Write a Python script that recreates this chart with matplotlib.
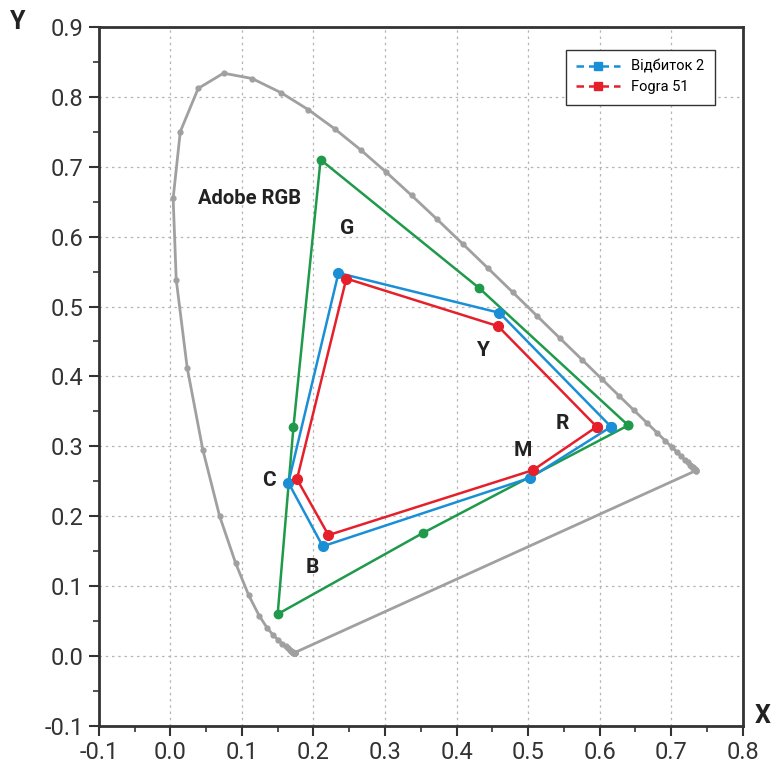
import matplotlib
matplotlib.use("Agg")
import matplotlib.pyplot as plt
from matplotlib.ticker import MultipleLocator

FONT = ["Roboto", "DejaVu Sans"]
plt.rcParams["font.family"] = FONT

# CIE 1931 spectral locus, 380..700 nm every 5 nm
LOCUS_X = [0.1741, 0.1740, 0.1738, 0.1736, 0.1733, 0.1730, 0.1726, 0.1721, 0.1714,
           0.1703, 0.1689, 0.1669, 0.1644, 0.1611, 0.1566, 0.1510, 0.1440, 0.1355,
           0.1241, 0.1096, 0.0913, 0.0687, 0.0454, 0.0235, 0.0082, 0.0039, 0.0139,
           0.0389, 0.0743, 0.1142, 0.1547, 0.1929, 0.2296, 0.2658, 0.3016, 0.3373,
           0.3731, 0.4087, 0.4441, 0.4788, 0.5125, 0.5448, 0.5752, 0.6029, 0.6270,
           0.6482, 0.6658, 0.6801, 0.6915, 0.7006, 0.7079, 0.7140, 0.7190, 0.7230,
           0.7260, 0.7283, 0.7300, 0.7311, 0.7320, 0.7327, 0.7334, 0.7340, 0.7344,
           0.7346, 0.7347]
LOCUS_Y = [0.0050, 0.0050, 0.0049, 0.0049, 0.0048, 0.0048, 0.0048, 0.0048, 0.0051,
           0.0058, 0.0069, 0.0086, 0.0109, 0.0138, 0.0177, 0.0227, 0.0297, 0.0399,
           0.0578, 0.0868, 0.1327, 0.2007, 0.2950, 0.4127, 0.5384, 0.6548, 0.7502,
           0.8120, 0.8338, 0.8262, 0.8059, 0.7816, 0.7543, 0.7243, 0.6923, 0.6589,
           0.6245, 0.5896, 0.5547, 0.5202, 0.4866, 0.4544, 0.4242, 0.3965, 0.3725,
           0.3514, 0.3340, 0.3197, 0.3083, 0.2993, 0.2920, 0.2859, 0.2809, 0.2770,
           0.2740, 0.2717, 0.2700, 0.2689, 0.2680, 0.2673, 0.2666, 0.2660, 0.2656,
           0.2654, 0.2653]

# gamut vertices in order R, Y, G, C, B, M
ADOBE_X = [0.64, 0.431, 0.21, 0.172, 0.15, 0.353]
ADOBE_Y = [0.33, 0.527, 0.71, 0.327, 0.06, 0.176]

PRINT2_X = [0.616, 0.460, 0.235, 0.165, 0.213, 0.503]
PRINT2_Y = [0.328, 0.491, 0.548, 0.248, 0.157, 0.255]

FOGRA_X = [0.596, 0.458, 0.246, 0.177, 0.221, 0.507]
FOGRA_Y = [0.328, 0.472, 0.540, 0.253, 0.173, 0.266]

LABELS = ["R", "Y", "G", "C", "B", "M"]
LABEL_X = [0.548, 0.436, 0.247, 0.138, 0.198, 0.493]
LABEL_Y = [0.333, 0.437, 0.612, 0.251, 0.126, 0.294]

GREEN = "#1e9a4a"
BLUE = "#1a8fd6"
RED = "#e5202b"
GRAY = "#a0a0a0"


def closed(v):
    return list(v) + [v[0]]


fig = plt.figure(figsize=(7.72, 7.69), dpi=100)
ax = fig.add_axes([0.128, 0.056, 0.834, 0.909])

ax.plot(closed(LOCUS_X), closed(LOCUS_Y), color=GRAY, lw=2.0, zorder=2)
ax.plot(LOCUS_X, LOCUS_Y, ls="none", marker="o", ms=3.5, color=GRAY, zorder=2)

ax.plot(closed(ADOBE_X), closed(ADOBE_Y), color=GREEN, lw=1.8, marker="o",
        ms=6, zorder=3)
ax.plot(closed(PRINT2_X), closed(PRINT2_Y), color=BLUE, lw=1.8, marker="o",
        ms=7, zorder=4)
ax.plot(closed(FOGRA_X), closed(FOGRA_Y), color=RED, lw=1.8, marker="o",
        ms=7, zorder=5)

for lab, lx, ly in zip(LABELS, LABEL_X, LABEL_Y):
    ax.text(lx, ly, lab, fontsize=15, fontweight="bold", color="#222222",
            ha="center", va="center")
ax.text(0.110, 0.655, "Adobe RGB", fontsize=14.5, fontweight="bold",
        color="#222222", ha="center", va="center")

# legend proxies
h1, = ax.plot([], [], color=BLUE, ls=(0, (3, 2)), marker="s", ms=6, lw=1.8,
              label="Відбиток 2")
h2, = ax.plot([], [], color=RED, ls=(0, (3, 2)), marker="s", ms=6, lw=1.8,
              label="Fogra 51")
leg = ax.legend(handles=[h1, h2], loc="upper right",
                bbox_to_anchor=(0.968, 0.978), fontsize=10.5, fancybox=False,
                edgecolor="#333333", framealpha=1, borderpad=0.7,
                handlelength=3.0, labelspacing=0.45)
leg.get_frame().set_linewidth(1.0)

ax.set_xlim(-0.1, 0.8)
ax.set_ylim(-0.1, 0.9)
ax.xaxis.set_major_locator(MultipleLocator(0.1))
ax.yaxis.set_major_locator(MultipleLocator(0.1))
ax.xaxis.set_minor_locator(MultipleLocator(0.05))
ax.yaxis.set_minor_locator(MultipleLocator(0.05))
ax.xaxis.set_major_formatter(lambda v, p: f"{v:.1f}")
ax.yaxis.set_major_formatter(lambda v, p: f"{v:.1f}")
ax.tick_params(which="major", direction="out", length=7, width=1.5,
               labelsize=17, colors="#333333", pad=4)
ax.tick_params(which="minor", direction="out", length=4, width=1.2,
               colors="#333333")
ax.grid(which="major", color="#b5b5b5", ls=(0, (2, 3)), lw=0.9)
ax.set_axisbelow(True)
for s in ax.spines.values():
    s.set_linewidth(2)
    s.set_color("#333333")

fig.text(18 / 772, 1 - 22 / 769, "Y", fontsize=18, fontweight="bold",
         color="#222222", ha="center", va="center")
fig.text(763 / 772, 1 - 716 / 769, "X", fontsize=18, fontweight="bold",
         color="#222222", ha="center", va="center")

fig.savefig("out.png", dpi=100)
